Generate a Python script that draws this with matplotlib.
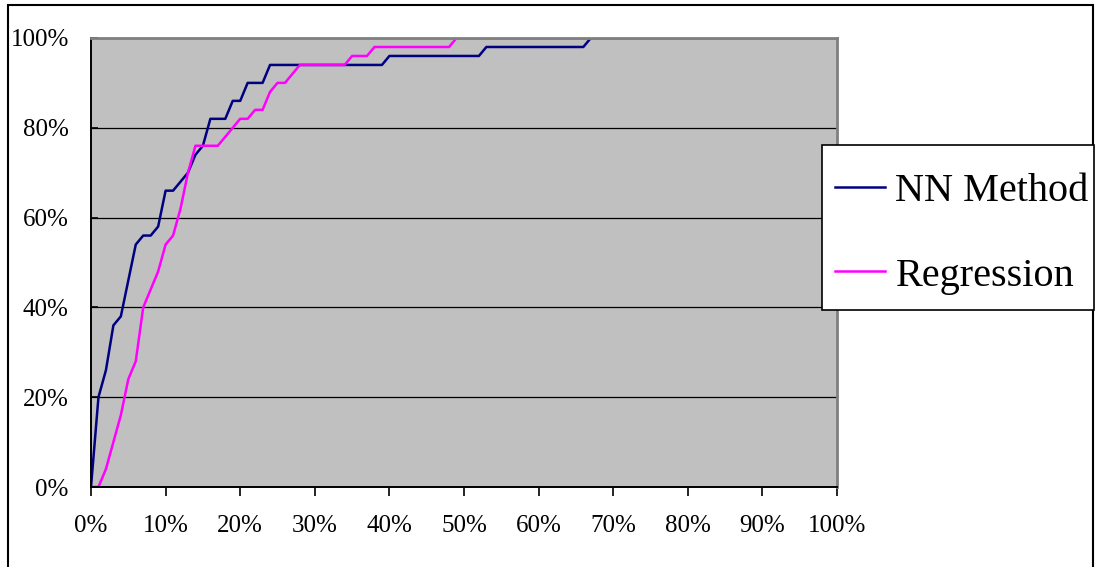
import matplotlib
matplotlib.use("Agg")

import matplotlib.pyplot as plt
from matplotlib.patches import Rectangle
from matplotlib.ticker import FuncFormatter

# breakpoints of the two cumulative curves (x in %, y in %)
nn_x = [0, 1, 2, 3, 4, 5, 6, 7, 8, 9, 10, 11, 12, 13, 14, 15, 16, 17, 18, 19,
        20, 21, 22, 23, 24, 39, 40, 52, 53, 66, 67, 100]
nn_y = [0, 20, 26, 36, 38, 46, 54, 56, 56, 58, 66, 66, 68, 70, 74, 76, 82, 82, 82, 86,
        86, 90, 90, 90, 94, 94, 96, 96, 98, 98, 100, 100]

reg_x = [0, 1, 2, 3, 4, 5, 6, 7, 8, 9, 10, 11, 12, 13, 14, 17, 18, 19, 20, 21,
         22, 23, 24, 25, 26, 27, 28, 34, 35, 37, 38, 48, 49, 100]
reg_y = [0, 0, 4, 10, 16, 24, 28, 40, 44, 48, 54, 56, 62, 70, 76, 76, 78, 80, 82, 82,
         84, 84, 88, 90, 90, 92, 94, 94, 96, 96, 98, 98, 100, 100]

labels = ["NN Method", "Regression"]
x_ticks = list(range(0, 101, 10))
y_ticks = list(range(0, 101, 20))

plt.rcParams["font.family"] = ["Liberation Serif", "DejaVu Serif"]

W, H = 1095, 567
fig = plt.figure(figsize=(W / 100, H / 100), dpi=100)
ax = fig.add_axes([91 / W, 80 / H, 746 / W, 449 / H])
ax.set_facecolor("#C0C0C0")

l1, = ax.plot(nn_x, nn_y, color="#000080", lw=1.8, label=labels[0])
l2, = ax.plot(reg_x, reg_y, color="#FF00FF", lw=1.8, label=labels[1])

ax.set_xlim(0, 100)
ax.set_ylim(0, 100)
ax.set_xticks(x_ticks)
ax.set_yticks(y_ticks)
pct = FuncFormatter(lambda v, p: "%d%%" % v)
ax.xaxis.set_major_formatter(pct)
ax.yaxis.set_major_formatter(pct)
ax.tick_params(axis="x", direction="out", length=6.5, width=1.2, pad=14, labelsize=18)
ax.tick_params(axis="y", direction="in", length=5, width=1.2, pad=16, labelsize=18)

ax.grid(axis="y", color="black", lw=0.9)
ax.set_axisbelow(True)
for s in ["left", "bottom"]:
    ax.spines[s].set_color("black")
    ax.spines[s].set_linewidth(1.4)
for s in ["top", "right"]:
    ax.spines[s].set_color("#808080")
    ax.spines[s].set_linewidth(2)

# legend box drawn separately, legend entries placed inside it
fig.patches.append(Rectangle((822 / W, 1 - 310 / H), (1094 - 822) / W, 165 / H,
                             transform=fig.transFigure, facecolor="white",
                             edgecolor="black", lw=1.2, zorder=3))
leg = fig.legend(handles=[l1, l2], loc="upper left",
                 bbox_to_anchor=(835 / W, 1 - 173 / H), borderaxespad=0,
                 fontsize=29, handlelength=1.25, handletextpad=0.25,
                 labelspacing=1.17, borderpad=0, frameon=False)
leg.set_zorder(4)

# outer chart border (runs off the bottom of the picture)
fig.patches.append(Rectangle((8 / W, -0.1), (1092.5 - 8) / W, 1.1 - 5 / H,
                             transform=fig.transFigure, fill=False,
                             edgecolor="black", lw=1.5))

fig.savefig("out.png", dpi=100)
